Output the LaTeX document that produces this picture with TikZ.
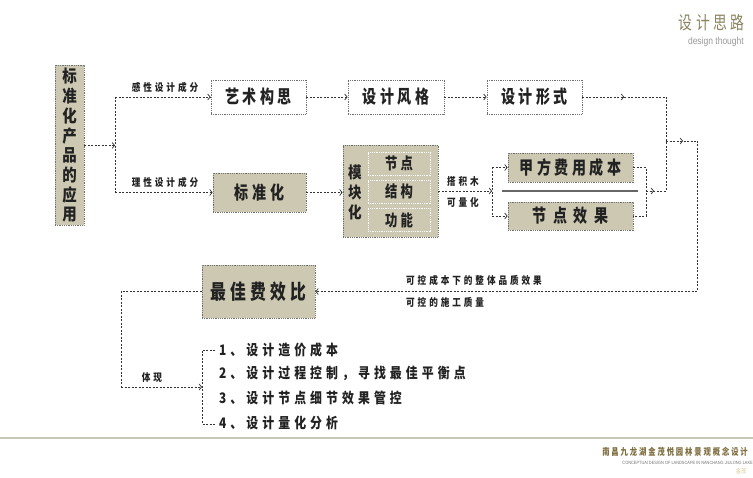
\documentclass[tikz,border=0pt]{standalone}
\usepackage{fontspec}
\setmainfont{Noto Sans CJK SC}
\newfontfamily\cjk[FakeStretch=0.77,LetterSpace=20]{Noto Sans CJK SC}
\newfontfamily\cjkw[FakeStretch=0.77,LetterSpace=35]{Noto Sans CJK SC}
\newfontfamily\cjks[FakeStretch=0.82,LetterSpace=28]{Noto Sans CJK SC}
\newfontfamily\cjkv[FakeStretch=0.85]{Noto Sans CJK SC}
\newfontfamily\latn[FakeStretch=0.85]{Liberation Sans}
\usetikzlibrary{arrows.meta,decorations.markings}
\definecolor{boxfill}{HTML}{CDC8B2}
\definecolor{boxline}{HTML}{707070}
\definecolor{con}{HTML}{333333}
\definecolor{olive}{HTML}{8A8462}
\definecolor{footc}{HTML}{7E6E40}
\definecolor{rulec}{HTML}{C9C7B8}
\definecolor{goldc}{HTML}{D8C890}
\definecolor{txt}{HTML}{222222}
\tikzset{
  bx/.style={draw=boxline, fill=boxfill, line width=0.8pt, dash pattern=on 0.9pt off 0.9pt, inner sep=0pt, text=txt, font=\cjk\bfseries\fontsize{18.2}{18.2}\selectfont},
  wbx/.style={bx, fill=white},
  inb/.style={draw=white, fill=boxfill, line width=0.7pt, dash pattern=on 0.9pt off 0.9pt, inner sep=0pt, minimum width=62pt, minimum height=23pt, text=txt, font=\cjk\bfseries\fontsize{16}{16}\selectfont},
  cn/.style={draw=con, line width=0.7pt, dash pattern=on 2pt off 1.5pt},
  ar/.style={cn, -{Straight Barb[length=2.5pt,width=6pt]}},
  midar/.style={cn, postaction={decorate}, decoration={markings, mark=at position #1 with {\arrow{Straight Barb[length=2.5pt,width=6pt]}}}},
  lab/.style={font=\cjks\bfseries\fontsize{10.5}{10.5}\selectfont, text=txt, inner sep=0pt},
  item/.style={font=\cjks\bfseries\fontsize{14.5}{14.5}\selectfont, text=txt, inner sep=0pt, anchor=west},
}
\begin{document}
\begin{tikzpicture}[x=1pt,y=-1pt]
\useasboundingbox (0,0) rectangle (753,478);
\fill[white] (0,0) rectangle (753,478);

% header
\node[font=\cjk\fontsize{18}{18}\selectfont, text=olive, anchor=east, inner sep=0pt] (hd) at (745,23) {设计思路};
\node[font=\latn\fontsize{10}{10}\selectfont, text=black!40, anchor=east, inner sep=0pt] (hd2) at (744,42) {design thought};

% left box
\node[bx, minimum width=29pt, minimum height=160pt, align=center, font=\cjkv\bfseries\fontsize{17}{19.7}\selectfont] (L) at (69.5,145.5) {标\\准\\化\\产\\品\\的\\应\\用};

% top row
\node[wbx, minimum width=95pt, minimum height=34pt] (a1) at (258.5,97) {艺术构思};
\node[wbx, minimum width=96pt, minimum height=34pt] (a2) at (396,97) {设计风格};
\node[wbx, minimum width=95pt, minimum height=34pt] (a3) at (534.5,97) {设计形式};

% middle row
\node[bx, minimum width=93pt, minimum height=39pt] (b1) at (259.5,192.5) {标准化};
\node[bx, minimum width=95pt, minimum height=92pt] (M) at (390.5,191) {};
\node[font=\cjkv\bfseries\fontsize{16}{20}\selectfont, text=txt, align=center, inner sep=0pt] (Mt) at (355,192) {模\\块\\化};
\node[inb] (n1) at (399,163.5) {节点};
\node[inb] (n2) at (399,191.5) {结构};
\node[inb] (n3) at (399,220) {功能};

\node[bx, minimum width=125pt, minimum height=29pt] (c1) at (570.5,167.5) {甲方费用成本};
\node[bx, minimum width=125pt, minimum height=28pt, font=\cjkw\bfseries\fontsize{18.2}{18.2}\selectfont] (c2) at (570.5,216) {节点效果};

% bottom box
\node[bx, minimum width=113pt, minimum height=53pt, font=\cjk\bfseries\fontsize{20.5}{20.5}\selectfont] (D) at (258.5,291.5) {最佳费效比};

% coordinates
\coordinate (j0) at (115,145.5);
\coordinate (j1) at (115,97);
\coordinate (j2) at (115,192.5);
\coordinate (k1) at (666,97);
\coordinate (k2) at (666,191);
\coordinate (k3) at (666,141);
\coordinate (r1) at (697,141);
\coordinate (r2) at (697,291.5);
\coordinate (m0) at (492,191);
\coordinate (m1) at (492,167.5);
\coordinate (m2) at (492,216);
\coordinate (q1) at (646,167.5);
\coordinate (q2) at (646,216);
\coordinate (q0) at (646,191);
\coordinate (s1) at (121,291.5);
\coordinate (s2) at (121,387);
\coordinate (t0) at (202,387);
\coordinate (t1) at (202,350);
\coordinate (t2) at (202,424);
\coordinate (t1e) at (215,350);
\coordinate (t2e) at (215,424);
\coordinate (g1) at (502,191);
\coordinate (g2) at (638,191);

% connectors
\draw[ar] (L.east |- j0) -- (j0);
\draw[cn] (j1) -- (j2);
\draw[ar] (j1) -- (a1.west);
\draw[ar] (j2) -- (b1.west);
\draw[ar] (a1.east) -- (a2.west);
\draw[ar] (a2.east) -- (a3.west);
\draw[midar=0.5] (a3.east) -- (k1);
\draw[cn] (k1) -- (k2);
\draw[ar] (b1.east) -- (b1.east -| M.west);
\draw[ar] (M.east |- m0) -- (m0);
\draw[cn] (m1) -- (m2);
\draw[ar] (m1) -- (c1.west);
\draw[ar] (m2) -- (c2.west);
\draw[cn] (c1.east) -- (q1) -- (q2) -- (c2.east);
\draw[midar=0.4] (q0) -- (k2);
\draw[draw=black!60, line width=1.5pt] (g1) -- (g2);
\draw[midar=0.55] (k3) -- (r1);
\draw[cn] (r1) -- (r2);
\draw[ar] (r2) -- (D.east);
\draw[cn] (D.west) -- (s1) -- (s2);
\draw[ar] (s2) -- (t0);
\draw[cn] (t1e) -- (t1) -- (t2) -- (t2e);

% labels
\node[lab] (l1) at (165,88) {感性设计成分};
\node[lab] (l2) at (165,183) {理性设计成分};
\node[lab] (l3) at (463,182) {搭积木};
\node[lab] (l4) at (463,202) {可量化};
\node[lab, anchor=west] (l5) at (406,281) {可控成本下的整体品质效果};
\node[lab, anchor=west] (l6) at (406,302) {可控的施工质量};
\node[lab] (l7) at (152,378) {体现};

% list
\node[item] (i1) at (219,350) {1、设计造价成本};
\node[item] (i2) at (219,373.5) {2、设计过程控制，寻找最佳平衡点};
\node[item] (i3) at (219,398) {3、设计节点细节效果管控};
\node[item] (i4) at (219,423) {4、设计量化分析};

% footer
\draw[draw=rulec, line width=2pt] (0,438) -- (753,438);
\node[font=\cjk\bfseries\fontsize{9.5}{9.5}\selectfont, text=footc, anchor=east, inner sep=0pt] (f1) at (748,452) {南昌九龙湖金茂悦园林景观概念设计};
\node[font=\latn\fontsize{4.6}{5}\selectfont, text=black!55, anchor=east, inner sep=0pt] (f2) at (753,463) {CONCEPTUAl DESIGN OF LANDSCAPE IN NANCHANG JIULONG LAKE};
\node[font=\cjkv\fontsize{6}{6}\selectfont, text=goldc, inner sep=0pt] (f3) at (741,471) {金茂};
\end{tikzpicture}
\end{document}
